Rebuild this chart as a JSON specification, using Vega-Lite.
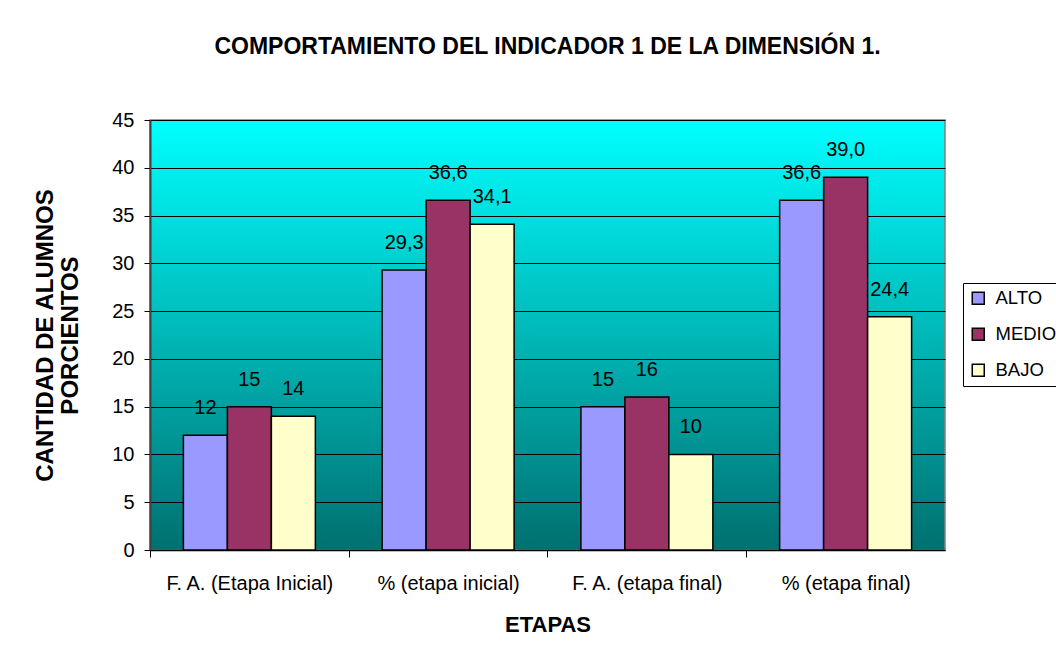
{
  "$schema": "https://vega.github.io/schema/vega-lite/v6.json",
  "width": 795,
  "height": 430,
  "autosize": {"type": "none"},
  "padding": {"left": 150, "top": 120, "right": 111, "bottom": 113},
  "background": "white",
  "title": {
    "text": "COMPORTAMIENTO DEL INDICADOR 1 DE LA DIMENSIÓN 1.",
    "font": "Liberation Sans",
    "fontSize": 23,
    "fontWeight": "bold",
    "color": "black",
    "anchor": "middle",
    "baseline": "alphabetic",
    "offset": 33
  },
  "data": {
    "values": [
      {"etapa": "F. A. (Etapa Inicial)", "nivel": "ALTO", "valor": 12, "label": "12"},
      {"etapa": "F. A. (Etapa Inicial)", "nivel": "MEDIO", "valor": 15, "label": "15"},
      {"etapa": "F. A. (Etapa Inicial)", "nivel": "BAJO", "valor": 14, "label": "14"},
      {"etapa": "% (etapa inicial)", "nivel": "ALTO", "valor": 29.3, "label": "29,3"},
      {"etapa": "% (etapa inicial)", "nivel": "MEDIO", "valor": 36.6, "label": "36,6"},
      {"etapa": "% (etapa inicial)", "nivel": "BAJO", "valor": 34.1, "label": "34,1"},
      {"etapa": "F. A. (etapa final)", "nivel": "ALTO", "valor": 15, "label": "15"},
      {"etapa": "F. A. (etapa final)", "nivel": "MEDIO", "valor": 16, "label": "16"},
      {"etapa": "F. A. (etapa final)", "nivel": "BAJO", "valor": 10, "label": "10"},
      {"etapa": "% (etapa final)", "nivel": "ALTO", "valor": 36.6, "label": "36,6"},
      {"etapa": "% (etapa final)", "nivel": "MEDIO", "valor": 39.0, "label": "39,0"},
      {"etapa": "% (etapa final)", "nivel": "BAJO", "valor": 24.4, "label": "24,4"}
    ]
  },
  "encoding": {
    "x": {
      "field": "etapa",
      "type": "nominal",
      "sort": ["F. A. (Etapa Inicial)", "% (etapa inicial)", "F. A. (etapa final)", "% (etapa final)"],
      "scale": {"paddingInner": 0.336, "paddingOuter": 0.168},
      "axis": {
        "title": "ETAPAS",
        "titleFont": "Liberation Sans",
        "titleFontSize": 22,
        "titleFontWeight": "bold",
        "titleColor": "black",
        "titleX": 397.5,
        "titleY": 74,
        "titleAlign": "center",
        "titleBaseline": "middle",
        "labelAngle": 0,
        "labelFont": "Liberation Sans",
        "labelFontSize": 20,
        "labelColor": "black",
        "labelPadding": 16,
        "labelLimit": 300,
        "bandPosition": 0,
        "tickOffset": -33.4,
        "labelOffset": 33.4,
        "tickSize": 7,
        "tickColor": "black",
        "tickWidth": 1,
        "domainColor": "black",
        "domainWidth": 1.5,
        "grid": false
      }
    },
    "xOffset": {
      "field": "nivel",
      "sort": ["ALTO", "MEDIO", "BAJO"],
      "scale": {"paddingInner": 0, "paddingOuter": 0}
    },
    "y": {
      "field": "valor",
      "type": "quantitative",
      "scale": {"domain": [0, 45], "nice": false},
      "axis": {
        "values": [0, 5, 10, 15, 20, 25, 30, 35, 40, 45],
        "title": ["CANTIDAD DE ALUMNOS", "PORCIENTOS"],
        "titleFont": "Liberation Sans",
        "titleFontSize": 24,
        "titleFontWeight": "bold",
        "titleColor": "black",
        "titleLineHeight": 25,
        "titleAngle": -90,
        "titleX": -105,
        "titleY": 215,
        "titleAlign": "center",
        "titleBaseline": "middle",
        "labelFont": "Liberation Sans",
        "labelFontSize": 20,
        "labelColor": "black",
        "labelPadding": 10,
        "tickSize": 6,
        "tickColor": "black",
        "domainColor": "#404040",
        "domainWidth": 2,
        "grid": true,
        "gridColor": "black",
        "gridWidth": 1.2,
        "gridOpacity": 1
      }
    }
  },
  "layer": [
    {
      "mark": {"type": "bar", "stroke": "black", "strokeWidth": 1.5},
      "encoding": {
        "color": {
          "field": "nivel",
          "type": "nominal",
          "sort": ["ALTO", "MEDIO", "BAJO"],
          "scale": {"domain": ["ALTO", "MEDIO", "BAJO"], "range": ["#9999FF", "#993366", "#FFFFCC"]},
          "legend": {
            "title": null,
            "orient": "none",
            "legendX": 813,
            "legendY": 163,
            "strokeColor": "black",
            "fillColor": "white",
            "padding": 6,
            "symbolType": "square",
            "symbolSize": 144,
            "symbolStrokeColor": "black",
            "symbolStrokeWidth": 1.5,
            "symbolOpacity": 1,
            "labelFont": "Liberation Sans",
            "labelFontSize": 18.5,
            "labelColor": "black",
            "labelOffset": 8,
            "rowPadding": 17
          }
        }
      }
    },
    {
      "mark": {"type": "text", "dy": -21, "baseline": "alphabetic", "font": "Liberation Sans", "fontSize": 20, "color": "black"},
      "encoding": {"text": {"field": "label"}}
    }
  ],
  "config": {
    "view": {
      "fill": {
        "gradient": "linear",
        "x1": 0, "y1": 0, "x2": 0, "y2": 1,
        "stops": [
          {"offset": 0, "color": "#00FFFF"},
          {"offset": 1, "color": "#007070"}
        ]
      },
      "stroke": "#808080",
      "strokeWidth": 1.5
    }
  }
}
